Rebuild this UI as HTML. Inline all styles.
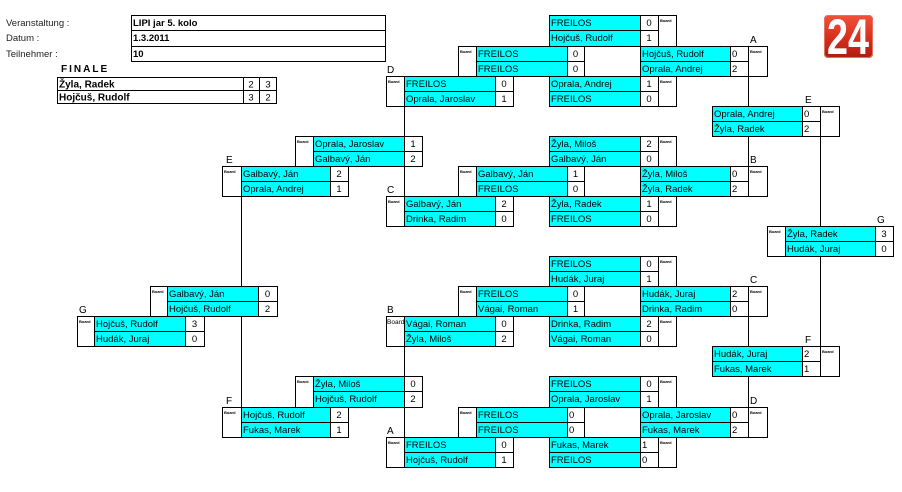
<!DOCTYPE html>
<html><head><meta charset="utf-8">
<style>
html,body{margin:0;padding:0;background:#fff;width:902px;height:492px;overflow:hidden}
svg{display:block}
text{font-family:"Liberation Sans",Arial,sans-serif;fill:#000}
.n{font-size:9.5px}
.s{font-size:9.5px}
.sc{font-size:9.5px;text-anchor:middle}
.bd{font-size:4px;font-weight:bold}
.lb{font-size:10px}
.h{font-size:9.5px;fill:#222}
.hb{font-size:9.5px;font-weight:bold}
</style></head>
<body>
<svg width="902" height="492" viewBox="0 0 902 492" xmlns="http://www.w3.org/2000/svg">
<defs>
<linearGradient id="rg" x1="0" y1="0" x2="0" y2="1">
<stop offset="0" stop-color="#f2503a"/>
<stop offset="0.5" stop-color="#d8321f"/>
<stop offset="1" stop-color="#b01a10"/>
</linearGradient>
</defs>
<rect width="902" height="492" fill="#fff"/>

<!-- header -->
<text class="h" x="6" y="26">Veranstaltung :</text>
<text class="h" x="6" y="41">Datum :</text>
<text class="h" x="6" y="57">Teilnehmer :</text>
<path d="M131.5 15.5H385.5V61.5H131.5Z M131.5 30.5H385.5 M131.5 46.5H385.5" fill="none" stroke="#000"/>
<text class="hb" x="133" y="26">LIPI jar 5. kolo</text>
<text class="hb" x="133" y="41">1.3.2011</text>
<text class="hb" x="133" y="57">10</text>

<!-- FINALE -->
<text x="61" y="72" style="font-size:10px;font-weight:bold;letter-spacing:2px">FINALE</text>
<path d="M57.5 77.5H276.5V103.5H57.5Z M57.5 90.5H276.5 M243.5 77.5V103.5 M259.5 77.5V103.5" fill="none" stroke="#000"/>
<text x="59" y="87.5" style="font-size:10px;font-weight:bold">Žyla, Radek</text>
<text x="59" y="100.5" style="font-size:10px;font-weight:bold">Hojčuš, Rudolf</text>
<text class="sc" x="251" y="87.5">2</text><text class="sc" x="268" y="87.5">3</text>
<text class="sc" x="251" y="100.5">3</text><text class="sc" x="268" y="100.5">2</text>

<!-- logo -->
<rect x="824" y="15" width="49" height="43" rx="4" fill="url(#rg)"/>
<rect x="824.5" y="15.5" width="48" height="42" rx="4" fill="none" stroke="#e8705e" stroke-width="1"/>
<text x="827" y="54" textLength="42" lengthAdjust="spacingAndGlyphs" style="font-size:50px;font-weight:bold;fill:#fff">24</text>

<!-- B-left big Board text (under cyan) -->
<text x="387" y="324" style="font-size:6.5px">Board</text>

<!-- cyan name cells -->
<g fill="#00ffff">
<rect x="549" y="15" width="91" height="31"/>
<rect x="549" y="76" width="91" height="30"/>
<rect x="549" y="136" width="91" height="30"/>
<rect x="549" y="196" width="91" height="30"/>
<rect x="549" y="256" width="91" height="30"/>
<rect x="549" y="316" width="91" height="30"/>
<rect x="549" y="376" width="91" height="31"/>
<rect x="549" y="437" width="91" height="30"/>
<rect x="640" y="46" width="90" height="30"/>
<rect x="640" y="166" width="90" height="30"/>
<rect x="640" y="286" width="90" height="30"/>
<rect x="640" y="407" width="90" height="30"/>
<rect x="712" y="106" width="90" height="30"/>
<rect x="712" y="346" width="90" height="30"/>
<rect x="785" y="226" width="90" height="30"/>
<rect x="476" y="46" width="91" height="30"/>
<rect x="476" y="166" width="91" height="30"/>
<rect x="476" y="286" width="91" height="30"/>
<rect x="476" y="407" width="91" height="30"/>
<rect x="404" y="76" width="91" height="30"/>
<rect x="404" y="196" width="91" height="30"/>
<rect x="404" y="316" width="91" height="30"/>
<rect x="404" y="437" width="91" height="30"/>
<rect x="313" y="136" width="91" height="30"/>
<rect x="313" y="376" width="91" height="31"/>
<rect x="241" y="166" width="89" height="30"/>
<rect x="241" y="407" width="89" height="30"/>
<rect x="167" y="286" width="91" height="30"/>
<rect x="94" y="316" width="91" height="30"/>
</g>

<!-- block borders -->
<g fill="none" stroke="#000" stroke-width="1">
<!-- R549 -->
<path d="M549.5 15.5H676.5V46.5H549.5Z M549.5 30.5H658.5 M640.5 15.5V46.5 M658.5 15.5V46.5"/>
<path d="M549.5 76.5H676.5V106.5H549.5Z M549.5 91.5H658.5 M640.5 76.5V106.5 M658.5 76.5V106.5"/>
<path d="M549.5 136.5H676.5V166.5H549.5Z M549.5 151.5H658.5 M640.5 136.5V166.5 M658.5 136.5V166.5"/>
<path d="M549.5 196.5H676.5V226.5H549.5Z M549.5 211.5H658.5 M640.5 196.5V226.5 M658.5 196.5V226.5"/>
<path d="M549.5 256.5H676.5V286.5H549.5Z M549.5 271.5H658.5 M640.5 256.5V286.5 M658.5 256.5V286.5"/>
<path d="M549.5 316.5H676.5V346.5H549.5Z M549.5 331.5H658.5 M640.5 316.5V346.5 M658.5 316.5V346.5"/>
<path d="M549.5 376.5H676.5V407.5H549.5Z M549.5 391.5H658.5 M640.5 376.5V407.5 M658.5 376.5V407.5"/>
<path d="M549.5 437.5H676.5V467.5H549.5Z M549.5 452.5H658.5 M640.5 437.5V467.5 M658.5 437.5V467.5"/>
<!-- R640 -->
<path d="M640.5 46.5H767.5V76.5H640.5Z M640.5 61.5H748.5 M730.5 46.5V76.5 M748.5 46.5V76.5"/>
<path d="M640.5 166.5H767.5V196.5H640.5Z M640.5 181.5H748.5 M730.5 166.5V196.5 M748.5 166.5V196.5"/>
<path d="M640.5 286.5H767.5V316.5H640.5Z M640.5 301.5H748.5 M730.5 286.5V316.5 M748.5 286.5V316.5"/>
<path d="M640.5 407.5H767.5V437.5H640.5Z M640.5 422.5H748.5 M730.5 407.5V437.5 M748.5 407.5V437.5"/>
<!-- R712 -->
<path d="M712.5 106.5H839.5V136.5H712.5Z M712.5 121.5H820.5 M802.5 106.5V136.5 M820.5 106.5V136.5"/>
<path d="M712.5 346.5H839.5V376.5H712.5Z M712.5 361.5H820.5 M802.5 346.5V376.5 M820.5 346.5V376.5"/>
<!-- L767 -->
<path d="M767.5 226.5H893.5V256.5H767.5Z M785.5 241.5H893.5 M785.5 226.5V256.5 M875.5 226.5V256.5"/>
<!-- L458 -->
<path d="M458.5 46.5H584.5V76.5H458.5Z M476.5 61.5H584.5 M476.5 46.5V76.5 M567.5 46.5V76.5"/>
<path d="M458.5 166.5H584.5V196.5H458.5Z M476.5 181.5H584.5 M476.5 166.5V196.5 M567.5 166.5V196.5"/>
<path d="M458.5 286.5H584.5V316.5H458.5Z M476.5 301.5H584.5 M476.5 286.5V316.5 M567.5 286.5V316.5"/>
<path d="M458.5 407.5H584.5V437.5H458.5Z M476.5 422.5H584.5 M476.5 407.5V437.5 M567.5 407.5V437.5"/>
<!-- L386 -->
<path d="M386.5 76.5H513.5V106.5H386.5Z M404.5 91.5H513.5 M404.5 76.5V106.5 M495.5 76.5V106.5"/>
<path d="M386.5 196.5H513.5V226.5H386.5Z M404.5 211.5H513.5 M404.5 196.5V226.5 M495.5 196.5V226.5"/>
<path d="M386.5 316.5H513.5V346.5H386.5Z M404.5 331.5H513.5 M404.5 316.5V346.5 M495.5 316.5V346.5"/>
<path d="M386.5 437.5H513.5V467.5H386.5Z M404.5 452.5H513.5 M404.5 437.5V467.5 M495.5 437.5V467.5"/>
<!-- L295 -->
<path d="M295.5 136.5H422.5V166.5H295.5Z M313.5 151.5H422.5 M313.5 136.5V166.5 M404.5 136.5V166.5"/>
<path d="M295.5 376.5H422.5V407.5H295.5Z M313.5 391.5H422.5 M313.5 376.5V407.5 M404.5 376.5V407.5"/>
<!-- L222 -->
<path d="M222.5 166.5H348.5V196.5H222.5Z M241.5 181.5H348.5 M241.5 166.5V196.5 M330.5 166.5V196.5"/>
<path d="M222.5 407.5H348.5V437.5H222.5Z M241.5 422.5H348.5 M241.5 407.5V437.5 M330.5 407.5V437.5"/>
<!-- L150 -->
<path d="M150.5 286.5H277.5V316.5H150.5Z M167.5 301.5H277.5 M167.5 286.5V316.5 M258.5 286.5V316.5"/>
<!-- L77 -->
<path d="M77.5 316.5H204.5V346.5H77.5Z M94.5 331.5H204.5 M94.5 316.5V346.5 M185.5 316.5V346.5"/>
<!-- connectors -->
<path d="M748.5 76V106 M748.5 136V166 M748.5 316V346 M748.5 376V407 M820.5 136V226 M820.5 256V346 M404.5 106V136 M404.5 166V196 M404.5 346V376 M404.5 407V437 M241.5 196V286 M241.5 316V407"/>
</g>

<!-- Board labels -->
<g class="bd">
<text class="bd" x="660" y="22">Board</text>
<text class="bd" x="660" y="83">Board</text>
<text class="bd" x="660" y="143">Board</text>
<text class="bd" x="660" y="203">Board</text>
<text class="bd" x="660" y="263">Board</text>
<text class="bd" x="660" y="323">Board</text>
<text class="bd" x="660" y="383">Board</text>
<text class="bd" x="660" y="444">Board</text>
<text class="bd" x="750" y="53">Board</text>
<text class="bd" x="750" y="173">Board</text>
<text class="bd" x="750" y="293">Board</text>
<text class="bd" x="750" y="414">Board</text>
<text class="bd" x="822" y="113">Board</text>
<text class="bd" x="822" y="353">Board</text>
<text class="bd" x="769" y="233">Board</text>
<text class="bd" x="460" y="53">Board</text>
<text class="bd" x="460" y="173">Board</text>
<text class="bd" x="460" y="293">Board</text>
<text class="bd" x="460" y="414">Board</text>
<text class="bd" x="388" y="83">Board</text>
<text class="bd" x="388" y="203">Board</text>
<text class="bd" x="388" y="444">Board</text>
<text class="bd" x="297" y="143">Board</text>
<text class="bd" x="297" y="383">Board</text>
<text class="bd" x="224" y="173">Board</text>
<text class="bd" x="224" y="414">Board</text>
<text class="bd" x="152" y="293">Board</text>
<text class="bd" x="79" y="323">Board</text>
</g>

<!-- Round letters -->
<text class="lb" x="750" y="43">A</text>
<text class="lb" x="750" y="163">B</text>
<text class="lb" x="750" y="283">C</text>
<text class="lb" x="750" y="404">D</text>
<text class="lb" x="805" y="103">E</text>
<text class="lb" x="805" y="343">F</text>
<text class="lb" x="877" y="223">G</text>
<text class="lb" x="387" y="73">D</text>
<text class="lb" x="387" y="193">C</text>
<text class="lb" x="387" y="313">B</text>
<text class="lb" x="387" y="434">A</text>
<text class="lb" x="226" y="163">E</text>
<text class="lb" x="226" y="404">F</text>
<text class="lb" x="79" y="313">G</text>

<!-- R549 texts -->
<text class="n" x="551" y="26">FREILOS</text><text class="sc" x="649" y="26">0</text>
<text class="n" x="551" y="41">Hojčuš, Rudolf</text><text class="sc" x="649" y="41">1</text>
<text class="n" x="551" y="87">Oprala, Andrej</text><text class="sc" x="649" y="87">1</text>
<text class="n" x="551" y="102">FREILOS</text><text class="sc" x="649" y="102">0</text>
<text class="n" x="551" y="147">Žyla, Miloš</text><text class="sc" x="649" y="147">2</text>
<text class="n" x="551" y="162">Galbavý, Ján</text><text class="sc" x="649" y="162">0</text>
<text class="n" x="551" y="207">Žyla, Radek</text><text class="sc" x="649" y="207">1</text>
<text class="n" x="551" y="222">FREILOS</text><text class="sc" x="649" y="222">0</text>
<text class="n" x="551" y="267">FREILOS</text><text class="sc" x="649" y="267">0</text>
<text class="n" x="551" y="282">Hudák, Juraj</text><text class="sc" x="649" y="282">1</text>
<text class="n" x="551" y="327">Drinka, Radim</text><text class="sc" x="649" y="327">2</text>
<text class="n" x="551" y="342">Vágai, Roman</text><text class="sc" x="649" y="342">0</text>
<text class="n" x="551" y="387">FREILOS</text><text class="sc" x="649" y="387">0</text>
<text class="n" x="551" y="402">Oprala, Jaroslav</text><text class="sc" x="649" y="402">1</text>
<text class="n" x="551" y="448">Fukas, Marek</text><text class="s" x="642" y="448">1</text>
<text class="n" x="551" y="463">FREILOS</text><text class="s" x="642" y="463">0</text>

<!-- R640 texts -->
<text class="n" x="642" y="57">Hojčuš, Rudolf</text><text class="s" x="732" y="57">0</text>
<text class="n" x="642" y="72">Oprala, Andrej</text><text class="s" x="732" y="72">2</text>
<text class="n" x="642" y="177">Žyla, Miloš</text><text class="s" x="732" y="177">0</text>
<text class="n" x="642" y="192">Žyla, Radek</text><text class="s" x="732" y="192">2</text>
<text class="n" x="642" y="297">Hudák, Juraj</text><text class="s" x="732" y="297">2</text>
<text class="n" x="642" y="312">Drinka, Radim</text><text class="s" x="732" y="312">0</text>
<text class="n" x="642" y="418">Oprala, Jaroslav</text><text class="s" x="732" y="418">0</text>
<text class="n" x="642" y="433">Fukas, Marek</text><text class="s" x="732" y="433">2</text>

<!-- R712 texts -->
<text class="n" x="714" y="117">Oprala, Andrej</text><text class="s" x="804" y="117">0</text>
<text class="n" x="714" y="132">Žyla, Radek</text><text class="s" x="804" y="132">2</text>
<text class="n" x="714" y="357">Hudák, Juraj</text><text class="s" x="804" y="357">2</text>
<text class="n" x="714" y="372">Fukas, Marek</text><text class="s" x="804" y="372">1</text>

<!-- L767 texts -->
<text class="n" x="787" y="237">Žyla, Radek</text><text class="sc" x="884" y="237">3</text>
<text class="n" x="787" y="252">Hudák, Juraj</text><text class="sc" x="884" y="252">0</text>

<!-- L458 texts -->
<text class="n" x="478" y="57">FREILOS</text><text class="sc" x="575.5" y="57">0</text>
<text class="n" x="478" y="72">FREILOS</text><text class="sc" x="575.5" y="72">0</text>
<text class="n" x="478" y="177">Galbavý, Ján</text><text class="sc" x="575.5" y="177">1</text>
<text class="n" x="478" y="192">FREILOS</text><text class="sc" x="575.5" y="192">0</text>
<text class="n" x="478" y="297">FREILOS</text><text class="sc" x="575.5" y="297">0</text>
<text class="n" x="478" y="312">Vágai, Roman</text><text class="sc" x="575.5" y="312">1</text>
<text class="n" x="478" y="418">FREILOS</text><text class="s" x="569" y="418">0</text>
<text class="n" x="478" y="433">FREILOS</text><text class="s" x="569" y="433">0</text>

<!-- L386 texts -->
<text class="n" x="406" y="87">FREILOS</text><text class="sc" x="504" y="87">0</text>
<text class="n" x="406" y="102">Oprala, Jaroslav</text><text class="sc" x="504" y="102">1</text>
<text class="n" x="406" y="207">Galbavý, Ján</text><text class="sc" x="504" y="207">2</text>
<text class="n" x="406" y="222">Drinka, Radim</text><text class="sc" x="504" y="222">0</text>
<text class="n" x="406" y="327">Vágai, Roman</text><text class="sc" x="504" y="327">0</text>
<text class="n" x="406" y="342">Žyla, Miloš</text><text class="sc" x="504" y="342">2</text>
<text class="n" x="406" y="448">FREILOS</text><text class="sc" x="504" y="448">0</text>
<text class="n" x="406" y="463">Hojčuš, Rudolf</text><text class="sc" x="504" y="463">1</text>

<!-- L295 texts -->
<text class="n" x="315" y="147">Oprala, Jaroslav</text><text class="sc" x="413" y="147">1</text>
<text class="n" x="315" y="162">Galbavý, Ján</text><text class="sc" x="413" y="162">2</text>
<text class="n" x="315" y="387">Žyla, Miloš</text><text class="sc" x="413" y="387">0</text>
<text class="n" x="315" y="402">Hojčuš, Rudolf</text><text class="sc" x="413" y="402">2</text>

<!-- L222 texts -->
<text class="n" x="243" y="177">Galbavý, Ján</text><text class="sc" x="339" y="177">2</text>
<text class="n" x="243" y="192">Oprala, Andrej</text><text class="sc" x="339" y="192">1</text>
<text class="n" x="243" y="418">Hojčuš, Rudolf</text><text class="sc" x="339" y="418">2</text>
<text class="n" x="243" y="433">Fukas, Marek</text><text class="sc" x="339" y="433">1</text>

<!-- L150 texts -->
<text class="n" x="169" y="297">Galbavý, Ján</text><text class="sc" x="267.5" y="297">0</text>
<text class="n" x="169" y="312">Hojčuš, Rudolf</text><text class="sc" x="267.5" y="312">2</text>

<!-- L77 texts -->
<text class="n" x="96" y="327">Hojčuš, Rudolf</text><text class="sc" x="194.5" y="327">3</text>
<text class="n" x="96" y="342">Hudák, Juraj</text><text class="sc" x="194.5" y="342">0</text>
</svg>
</body></html>
